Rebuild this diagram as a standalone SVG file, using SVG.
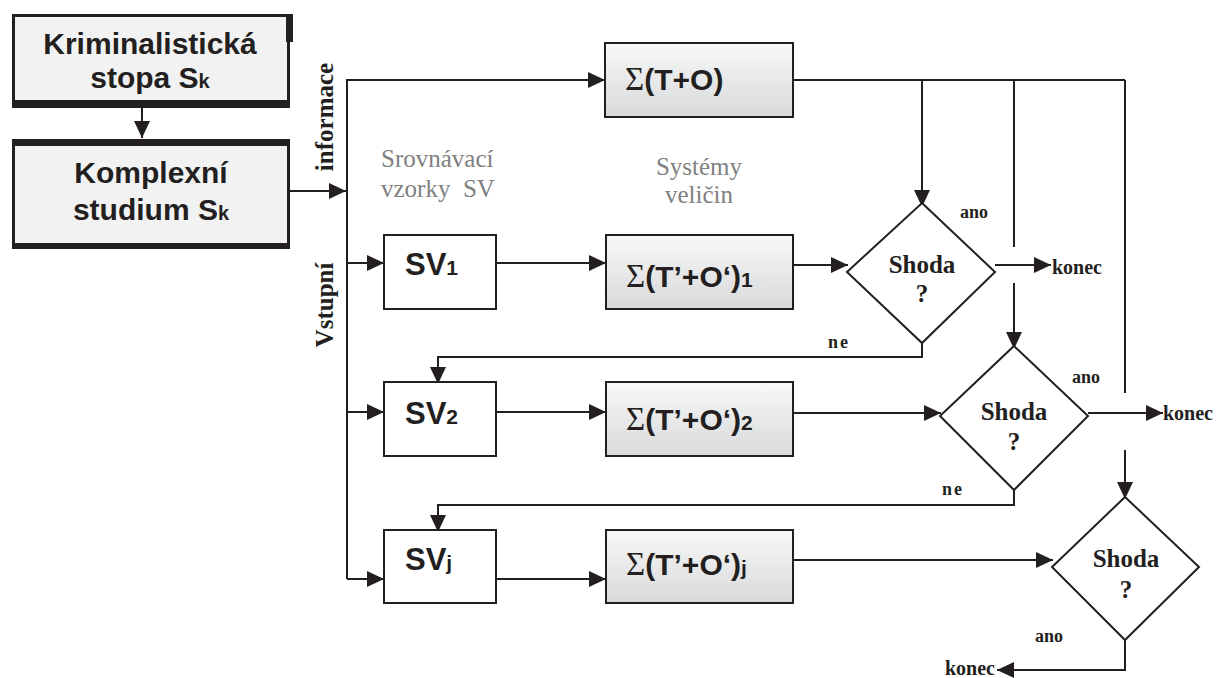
<svg xmlns="http://www.w3.org/2000/svg" width="1217" height="678" viewBox="0 0 1217 678">
<style>
.ln{fill:none;stroke:#231f20;stroke-width:2}
.ar{fill:none;stroke:#231f20;stroke-width:2;marker-end:url(#ah)}
.sans{font-family:"Liberation Sans",Arial,sans-serif;font-weight:bold;fill:#231f20}
.ser{font-family:"Liberation Serif","Times New Roman",serif;fill:#231f20}
.b{font-weight:bold}
.gray{fill:#808080}
.sv{fill:#fff;stroke:#231f20;stroke-width:2}
.sig{fill:url(#gr);stroke:#231f20;stroke-width:2}
.dia{fill:#fff;stroke:#231f20;stroke-width:2}
.top{fill:#f2f2f2;stroke:#231f20;stroke-width:3}
</style>
<defs>
<linearGradient id="gr" x1="0" y1="0" x2="0" y2="1">
<stop offset="0" stop-color="#f8f8f8"/>
<stop offset="1" stop-color="#d8d9db"/>
</linearGradient>
<marker id="ah" markerUnits="userSpaceOnUse" markerWidth="18" markerHeight="16" refX="17" refY="8" orient="auto">
<path d="M0,0 L17,8 L0,16 z" fill="#231f20"/>
</marker>
</defs>
<rect width="1217" height="678" fill="#fff"/>

<g id="connectors">
<path class="ar" d="M142,108 L142,138"/>
<path class="ar" d="M290,191 L346,191"/>
<path class="ln" d="M347,579 L347,80 L588,80"/>
<path class="ar" d="M347,80 L605,80"/>
<path class="ar" d="M347,579 L384,579"/>
<path class="ar" d="M347,263 L384,263"/>
<path class="ar" d="M347,412 L384,412"/>
<path class="ar" d="M496,263 L606,263"/>
<path class="ar" d="M496,412 L606,412"/>
<path class="ar" d="M496,579 L606,579"/>
<path class="ln" d="M793,80 L1125,80"/>
<path class="ar" d="M922,80 L922,207"/>
<path class="ln" d="M1014,80 L1014,247"/>
<path class="ar" d="M1014,283 L1014,349"/>
<path class="ln" d="M1125,80 L1125,393"/>
<path class="ar" d="M1125,450 L1125,499"/>
<path class="ar" d="M793,265 L848,265"/>
<path class="ar" d="M995,265 L1051,265"/>
<path class="ar" d="M793,413 L941,413"/>
<path class="ar" d="M1088,413 L1163,413"/>
<path class="ar" d="M793,560 L1053,560"/>
<path class="ar" d="M922,343 L922,357 L438,357 L438,384"/>
<path class="ar" d="M1014,490 L1014,505 L438,505 L438,532"/>
<path class="ar" d="M1125,640 L1125,670 L997,670"/>
</g>

<g id="n-stopa">
<rect class="top" x="13.5" y="15.5" width="275" height="88"/>
<rect x="12" y="100" width="278" height="8" fill="#231f20"/>
<rect x="286" y="14" width="7" height="28" fill="#231f20"/>
<text class="sans" font-size="30" text-anchor="middle" x="150" y="54">Kriminalistická</text>
<text class="sans" font-size="30" text-anchor="middle" x="150" y="88">stopa S<tspan font-size="20">k</tspan></text>
</g>

<g id="n-studium">
<rect class="top" x="13.5" y="141" width="275" height="106"/>
<rect x="12" y="139" width="278" height="7" fill="#231f20"/>
<rect x="12" y="243" width="278" height="6" fill="#231f20"/>
<text class="sans" font-size="30" text-anchor="middle" x="151" y="183">Komplexní</text>
<text class="sans" font-size="30" text-anchor="middle" x="151" y="220">studium S<tspan font-size="20">k</tspan></text>
</g>

<g id="lbl-vstup">
<text class="ser b" font-size="25" text-anchor="middle" transform="translate(333,117) rotate(-90)">informace</text>
<text class="ser b" font-size="25" text-anchor="middle" transform="translate(333,305) rotate(-90)">Vstupní</text>
</g>

<g id="lbl-headers" font-family="'Liberation Serif','Times New Roman',serif">
<text class="ser gray" font-size="25" x="381" y="167">Srovnávací</text>
<text class="ser gray" font-size="25" x="381" y="197" xml:space="preserve">vzorky  SV</text>
<text class="ser gray" font-size="25" text-anchor="middle" x="699" y="175">Systémy</text>
<text class="ser gray" font-size="25" text-anchor="middle" x="699" y="203">veličin</text>
</g>

<g id="n-sigma0">
<rect class="sig" x="605" y="43" width="188" height="74"/>
<text x="625" y="90" font-size="30"><tspan class="ser" font-size="33">Σ</tspan><tspan class="sans">(T+O)</tspan></text>
</g>

<g id="n-sv1">
<rect class="sv" x="384" y="235" width="112" height="74"/>
<text class="sans" font-size="31" x="405" y="275">SV<tspan font-size="21">1</tspan></text>
</g>
<g id="n-sigma1">
<rect class="sig" x="606" y="235" width="187" height="74"/>
<text x="626" y="287" font-size="30"><tspan class="ser" font-size="33">Σ</tspan><tspan class="sans">(T’+O‘)</tspan><tspan class="sans" font-size="21">1</tspan></text>
</g>

<g id="n-sv2">
<rect class="sv" x="384" y="382" width="112" height="74"/>
<text class="sans" font-size="31" x="405" y="424">SV<tspan font-size="21">2</tspan></text>
</g>
<g id="n-sigma2">
<rect class="sig" x="606" y="382" width="187" height="74"/>
<text x="626" y="430" font-size="30"><tspan class="ser" font-size="33">Σ</tspan><tspan class="sans">(T’+O‘)</tspan><tspan class="sans" font-size="21">2</tspan></text>
</g>

<g id="n-svj">
<rect class="sv" x="384" y="530" width="112" height="73"/>
<text class="sans" font-size="31" x="405" y="570">SV<tspan font-size="21">j</tspan></text>
</g>
<g id="n-sigmaj">
<rect class="sig" x="606" y="530" width="187" height="73"/>
<text x="626" y="575" font-size="30"><tspan class="ser" font-size="33">Σ</tspan><tspan class="sans">(T’+O‘)</tspan><tspan class="sans" font-size="21">j</tspan></text>
</g>

<g id="n-shoda1">
<path class="dia" d="M922,203 L995,272 L922,343 L847,272 Z"/>
<text class="ser b" font-size="25" text-anchor="middle" x="922" y="273">Shoda</text>
<text class="ser b" font-size="25" text-anchor="middle" x="922" y="302">?</text>
</g>
<g id="n-shoda2">
<path class="dia" d="M1014,346 L1088,416 L1014,490 L940,416 Z"/>
<text class="ser b" font-size="25" text-anchor="middle" x="1014" y="420">Shoda</text>
<text class="ser b" font-size="25" text-anchor="middle" x="1014" y="450">?</text>
</g>
<g id="n-shoda3">
<path class="dia" d="M1125,497 L1199,567 L1125,640 L1052,567 Z"/>
<text class="ser b" font-size="25" text-anchor="middle" x="1126" y="567">Shoda</text>
<text class="ser b" font-size="25" text-anchor="middle" x="1126" y="598">?</text>
</g>

<g id="lbl-edges">
<text class="ser b" font-size="18" x="960" y="218">ano</text>
<text class="ser b" font-size="18" x="1072" y="383">ano</text>
<text class="ser b" font-size="18" x="1035" y="642">ano</text>
<text class="ser b" font-size="18" x="828" y="348" letter-spacing="2">ne</text>
<text class="ser b" font-size="18" x="942" y="495" letter-spacing="2">ne</text>
<text class="ser b" font-size="20" x="1052" y="274">konec</text>
<text class="ser b" font-size="20" x="1163" y="420">konec</text>
<text class="ser b" font-size="20" x="995" y="675" text-anchor="end">konec</text>
</g>
</svg>
